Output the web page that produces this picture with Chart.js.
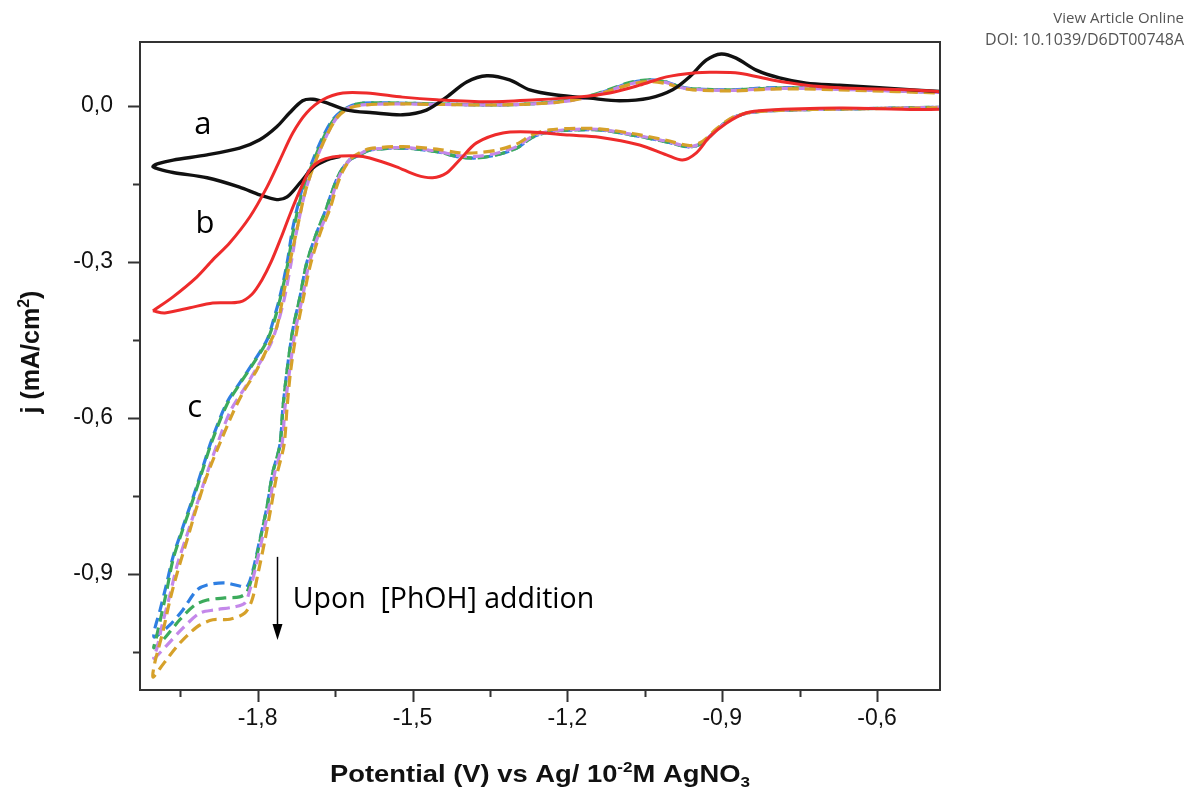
<!DOCTYPE html>
<html>
<head>
<meta charset="utf-8">
<script src="https://cdn.jsdelivr.net/npm/chart.js@4.4.1/dist/chart.umd.min.js"></script>
<style>
  html, body { margin: 0; padding: 0; background: #fff; }
  #wrap { width: 1187px; height: 792px; position: relative; }
</style>
</head>
<body>
<div id="wrap"><canvas id="cv"></canvas></div>
<script>
// axis ranges (V, mA/cm2)
const xRange = [-2.028, -0.478]
const yRange = [-1.123, 0.123]
const majorStep = 0.3
const minorStep = 0.15

// curve a (black), visible part: lower branch -> tip -> upper branch
const curveA = [
  [-1.640,-0.097],[-1.666,-0.104],[-1.693,-0.119],[-1.718,-0.148],[-1.743,-0.175],[-1.763,-0.180],
  [-1.796,-0.171],[-1.835,-0.156],[-1.898,-0.138],[-1.964,-0.128],[-1.993,-0.121],[-2.003,-0.117],
  [-1.993,-0.111],[-1.964,-0.104],[-1.898,-0.094],[-1.835,-0.081],[-1.796,-0.065],[-1.763,-0.040],
  [-1.738,-0.013],[-1.713,0.010],[-1.693,0.013],[-1.666,0.006],[-1.627,-0.008],[-1.577,-0.013],
  [-1.519,-0.017],[-1.473,-0.008],[-1.434,0.017],[-1.395,0.046],[-1.356,0.058],[-1.312,0.050],
  [-1.273,0.031],[-1.221,0.021],[-1.157,0.015],[-1.099,0.010],[-1.041,0.015],[-0.996,0.031],
  [-0.963,0.056],[-0.931,0.088],[-0.902,0.100],[-0.873,0.092],[-0.834,0.069],[-0.789,0.054],
  [-0.737,0.044],[-0.673,0.040],[-0.596,0.035],[-0.45,0.026]
]

// curve b (red)
const curveB = [
  [-2.003,-0.394],[-1.964,-0.367],[-1.918,-0.329],[-1.887,-0.296],[-1.854,-0.263],[-1.815,-0.213],
  [-1.782,-0.156],[-1.757,-0.104],[-1.732,-0.052],[-1.705,-0.013],[-1.674,0.012],[-1.635,0.025],
  [-1.589,0.025],[-1.519,0.017],[-1.453,0.012],[-1.356,0.008],[-1.260,0.012],[-1.182,0.017],
  [-1.118,0.025],[-1.060,0.040],[-1.008,0.056],[-0.950,0.064],[-0.919,0.065],[-0.867,0.063],
  [-0.803,0.050],[-0.737,0.040],[-0.673,0.035],[-0.45,0.024],
  [-0.45,-0.004],[-0.673,-0.004],[-0.815,-0.008],[-0.853,-0.013],[-0.892,-0.033],[-0.925,-0.060],
  [-0.950,-0.090],[-0.977,-0.104],[-1.008,-0.094],[-1.060,-0.075],[-1.138,-0.060],[-1.196,-0.056],
  [-1.273,-0.050],[-1.325,-0.052],[-1.376,-0.071],[-1.409,-0.104],[-1.434,-0.129],[-1.461,-0.138],
  [-1.492,-0.133],[-1.531,-0.117],[-1.583,-0.100],[-1.608,-0.096],[-1.655,-0.098],[-1.680,-0.106],
  [-1.699,-0.123],[-1.718,-0.162],[-1.738,-0.210],[-1.755,-0.254],[-1.774,-0.300],[-1.792,-0.335],
  [-1.811,-0.362],[-1.835,-0.377],[-1.887,-0.379],[-1.931,-0.388],[-1.980,-0.398],[-2.003,-0.394]
]

// curves c, increasing [PhOH] (blue, green, violet, gold)
const curveC1 = [
  [-0.45,-0.002],[-0.673,-0.006],[-0.776,-0.008],[-0.842,-0.012],[-0.880,-0.023],[-0.911,-0.046],
  [-0.938,-0.071],[-0.963,-0.079],[-1.008,-0.069],[-1.074,-0.056],[-1.138,-0.046],[-1.182,-0.046],
  [-1.235,-0.050],[-1.267,-0.060],[-1.298,-0.081],[-1.337,-0.094],[-1.376,-0.100],[-1.409,-0.098],
  [-1.453,-0.088],[-1.519,-0.081],[-1.583,-0.085],[-1.602,-0.094],[-1.622,-0.104],[-1.641,-0.129],
  [-1.655,-0.162],[-1.668,-0.200],[-1.685,-0.242],[-1.705,-0.302],[-1.718,-0.367],[-1.732,-0.431],
  [-1.743,-0.508],[-1.751,-0.579],[-1.757,-0.652],[-1.771,-0.706],[-1.782,-0.771],[-1.796,-0.835],
  [-1.809,-0.892],[-1.821,-0.925],[-1.835,-0.923],[-1.864,-0.917],[-1.898,-0.921],[-1.918,-0.931],
  [-1.945,-0.969],[-1.970,-0.998],[-1.993,-1.017],[-2.001,-1.021],
  [-1.999,-1.004],[-1.989,-0.969],[-1.976,-0.917],[-1.964,-0.867],[-1.945,-0.810],[-1.925,-0.752],
  [-1.906,-0.694],[-1.889,-0.642],[-1.860,-0.571],[-1.835,-0.533],[-1.809,-0.494],[-1.782,-0.450],
  [-1.771,-0.417],[-1.757,-0.367],[-1.743,-0.302],[-1.732,-0.235],[-1.713,-0.156],[-1.693,-0.104],
  [-1.674,-0.060],[-1.655,-0.027],[-1.635,-0.008],[-1.608,0.004],[-1.564,0.006],[-1.453,0.004],
  [-1.325,0.002],[-1.221,0.008],[-1.163,0.017],[-1.118,0.031],[-1.080,0.044],[-1.041,0.050],
  [-1.008,0.046],[-0.982,0.037],[-0.957,0.033],[-0.880,0.031],[-0.815,0.035],[-0.751,0.035],
  [-0.673,0.033],[-0.45,0.025]
]
const curveC2 = [
  [-0.45,-0.002],[-0.673,-0.006],[-0.776,-0.008],[-0.842,-0.012],[-0.880,-0.023],[-0.911,-0.046],
  [-0.938,-0.071],[-0.963,-0.079],[-1.008,-0.069],[-1.074,-0.056],[-1.138,-0.046],[-1.182,-0.046],
  [-1.235,-0.050],[-1.267,-0.060],[-1.298,-0.081],[-1.337,-0.094],[-1.376,-0.100],[-1.409,-0.098],
  [-1.453,-0.088],[-1.519,-0.081],[-1.583,-0.085],[-1.602,-0.094],[-1.622,-0.104],[-1.641,-0.129],
  [-1.655,-0.162],[-1.668,-0.200],[-1.685,-0.242],[-1.705,-0.302],[-1.718,-0.367],[-1.732,-0.431],
  [-1.743,-0.508],[-1.751,-0.579],[-1.757,-0.652],[-1.771,-0.706],[-1.782,-0.771],[-1.796,-0.838],
  [-1.809,-0.898],[-1.821,-0.935],[-1.835,-0.944],[-1.864,-0.946],[-1.898,-0.950],[-1.922,-0.960],
  [-1.951,-0.988],[-1.980,-1.023],[-2.001,-1.042],
  [-1.997,-1.025],[-1.989,-0.990],[-1.976,-0.931],[-1.964,-0.872],[-1.945,-0.814],[-1.925,-0.756],
  [-1.906,-0.698],[-1.889,-0.646],[-1.860,-0.575],[-1.835,-0.535],[-1.809,-0.496],[-1.782,-0.452],
  [-1.769,-0.417],[-1.755,-0.365],[-1.741,-0.300],[-1.730,-0.235],[-1.711,-0.156],[-1.691,-0.104],
  [-1.672,-0.060],[-1.653,-0.027],[-1.633,-0.008],[-1.606,0.004],[-1.564,0.006],[-1.453,0.004],
  [-1.325,0.002],[-1.221,0.008],[-1.163,0.018],[-1.118,0.032],[-1.080,0.045],[-1.041,0.050],
  [-1.008,0.046],[-0.982,0.037],[-0.957,0.033],[-0.880,0.031],[-0.815,0.034],[-0.751,0.035],
  [-0.673,0.033],[-0.45,0.025]
]
const curveC3 = [
  [-0.45,-0.002],[-0.673,-0.006],[-0.776,-0.008],[-0.842,-0.012],[-0.880,-0.023],[-0.911,-0.046],
  [-0.938,-0.070],[-0.963,-0.078],[-1.008,-0.068],[-1.074,-0.055],[-1.138,-0.045],[-1.182,-0.045],
  [-1.235,-0.049],[-1.267,-0.058],[-1.298,-0.078],[-1.337,-0.091],[-1.376,-0.097],[-1.409,-0.096],
  [-1.453,-0.087],[-1.519,-0.080],[-1.583,-0.084],[-1.602,-0.092],[-1.620,-0.102],[-1.638,-0.127],
  [-1.651,-0.160],[-1.663,-0.200],[-1.680,-0.242],[-1.700,-0.302],[-1.713,-0.367],[-1.727,-0.431],
  [-1.738,-0.508],[-1.747,-0.579],[-1.753,-0.652],[-1.767,-0.706],[-1.778,-0.771],[-1.792,-0.835],
  [-1.805,-0.892],[-1.815,-0.930],[-1.825,-0.956],[-1.844,-0.963],[-1.883,-0.969],[-1.912,-0.975],
  [-1.945,-1.004],[-1.976,-1.037],[-2.001,-1.062],
  [-1.995,-1.042],[-1.985,-0.998],[-1.970,-0.940],[-1.956,-0.883],[-1.937,-0.825],[-1.918,-0.767],
  [-1.898,-0.706],[-1.879,-0.652],[-1.852,-0.585],[-1.825,-0.542],[-1.802,-0.504],[-1.776,-0.460],
  [-1.763,-0.425],[-1.749,-0.373],[-1.736,-0.306],[-1.724,-0.238],[-1.707,-0.162],[-1.687,-0.104],
  [-1.666,-0.056],[-1.647,-0.023],[-1.625,-0.004],[-1.598,0.002],[-1.540,0.004],[-1.453,0.003],
  [-1.325,0.002],[-1.221,0.007],[-1.163,0.016],[-1.118,0.030],[-1.080,0.042],[-1.041,0.048],
  [-1.008,0.045],[-0.982,0.036],[-0.957,0.032],[-0.880,0.030],[-0.815,0.033],[-0.751,0.034],
  [-0.673,0.032],[-0.45,0.025]
]
const curveC4 = [
  [-0.45,-0.003],[-0.673,-0.006],[-0.776,-0.008],[-0.842,-0.012],[-0.880,-0.022],[-0.911,-0.044],
  [-0.938,-0.068],[-0.963,-0.076],[-1.008,-0.066],[-1.074,-0.053],[-1.138,-0.044],[-1.182,-0.043],
  [-1.235,-0.046],[-1.267,-0.055],[-1.298,-0.073],[-1.337,-0.085],[-1.376,-0.090],[-1.409,-0.090],
  [-1.453,-0.083],[-1.519,-0.078],[-1.583,-0.082],[-1.602,-0.090],[-1.618,-0.100],[-1.635,-0.125],
  [-1.648,-0.158],[-1.660,-0.198],[-1.678,-0.242],[-1.697,-0.302],[-1.711,-0.367],[-1.724,-0.431],
  [-1.736,-0.508],[-1.743,-0.579],[-1.749,-0.652],[-1.763,-0.710],[-1.774,-0.771],[-1.786,-0.835],
  [-1.800,-0.902],[-1.811,-0.950],[-1.825,-0.975],[-1.854,-0.987],[-1.887,-0.988],[-1.912,-0.998],
  [-1.931,-1.013],[-1.951,-1.033],[-1.970,-1.056],[-1.989,-1.081],[-2.003,-1.098],
  [-1.999,-1.069],[-1.993,-1.046],[-1.983,-1.008],[-1.970,-0.950],[-1.956,-0.898],[-1.937,-0.835],
  [-1.918,-0.771],[-1.898,-0.710],[-1.873,-0.648],[-1.848,-0.590],[-1.829,-0.552],[-1.802,-0.508],
  [-1.780,-0.463],[-1.763,-0.425],[-1.751,-0.367],[-1.738,-0.302],[-1.724,-0.238],[-1.707,-0.162],
  [-1.687,-0.104],[-1.666,-0.056],[-1.645,-0.021],[-1.622,-0.004],[-1.593,0.002],[-1.525,0.004],
  [-1.453,0.003],[-1.325,0.002],[-1.221,0.007],[-1.163,0.016],[-1.118,0.029],[-1.080,0.041],
  [-1.041,0.047],[-1.008,0.043],[-0.982,0.035],[-0.957,0.031],[-0.880,0.029],[-0.815,0.032],
  [-0.751,0.033],[-0.673,0.031],[-0.45,0.024]
]

// text labels placed in data units
const curveLabels = [
  { text: 'a', x: -1.906, y: -0.037 },
  { text: 'b', x: -1.902, y: -0.227 },
  { text: 'c', x: -1.922, y: -0.581 }
]
const arrowNote = { text: 'Upon  [PhOH] addition', x: -1.763, yTop: -0.867, yTip: -1.027, textX: -1.732, textY: -0.950 }

const toPts = arr => arr.map(p => ({x: p[0], y: p[1]}))

function isMajor(v) {
  return Math.abs(Math.round(v / majorStep) * majorStep - v) < 1e-6
}
function fmtTick(v) {
  if (!isMajor(v)) return ''
  return (Math.round(v / majorStep) * majorStep).toFixed(1).replace('.', ',')
}

// text with super/subscript pieces
function drawRich(ctx, parts, size, sx) {
  const small = Math.round(size * 0.62)
  let total = 0
  const widths = parts.map(p => {
    ctx.font = 'bold ' + (p[1] === 'n' ? size : small) + 'px "Liberation Sans", Arial, sans-serif'
    const w = ctx.measureText(p[0]).width
    total += w
    return w
  })
  ctx.scale(sx, 1)
  let x = -total / 2
  parts.forEach((p, i) => {
    ctx.font = 'bold ' + (p[1] === 'n' ? size : small) + 'px "Liberation Sans", Arial, sans-serif'
    const dy = p[1] === 'sup' ? -size * 0.4 : (p[1] === 'sub' ? size * 0.22 : 0)
    ctx.fillText(p[0], x, dy)
    x += widths[i]
  })
}

const decor = {
  id: 'decor',
  afterDraw(chart) {
    const ctx = chart.ctx
    const area = chart.chartArea
    const xs = chart.scales.x
    const ys = chart.scales.y
    ctx.save()
    // frame
    ctx.strokeStyle = '#333'
    ctx.lineWidth = 2
    ctx.strokeRect(area.left, area.top, area.right - area.left, area.bottom - area.top)
    // outward tick marks
    ctx.beginPath()
    xs.ticks.forEach(t => {
      const px = Math.round(xs.getPixelForValue(t.value)) + 0.5
      ctx.moveTo(px, area.bottom)
      ctx.lineTo(px, area.bottom + (isMajor(t.value) ? 12 : 7))
    })
    ys.ticks.forEach(t => {
      const py = Math.round(ys.getPixelForValue(t.value)) + 0.5
      ctx.moveTo(area.left, py)
      ctx.lineTo(area.left - (isMajor(t.value) ? 12 : 7), py)
    })
    ctx.stroke()

    // axis titles
    ctx.fillStyle = '#111'
    ctx.textBaseline = 'alphabetic'
    ctx.textAlign = 'left'
    ctx.save()
    ctx.translate((area.left + area.right) / 2, 782)
    drawRich(ctx, [['Potential (V) vs Ag/ 10', 'n'], ['-2', 'sup'], ['M AgNO', 'n'], ['3', 'sub']], 24, 1.14)
    ctx.restore()
    ctx.save()
    ctx.translate(39, 352)
    ctx.rotate(-Math.PI / 2)
    drawRich(ctx, [['j (mA/cm', 'n'], ['2', 'sup'], [')', 'n']], 25, 1)
    ctx.restore()

    // curve letters
    ctx.fillStyle = '#000'
    ctx.textAlign = 'center'
    ctx.textBaseline = 'middle'
    ctx.font = '31px "Open Sans", sans-serif'
    curveLabels.forEach(l => {
      ctx.fillText(l.text, xs.getPixelForValue(l.x), ys.getPixelForValue(l.y))
    })

    // arrow and note
    const ax = Math.round(xs.getPixelForValue(arrowNote.x)) + 0.5
    const ay0 = ys.getPixelForValue(arrowNote.yTop)
    const ay1 = ys.getPixelForValue(arrowNote.yTip)
    ctx.strokeStyle = '#000'
    ctx.lineWidth = 1.5
    ctx.beginPath()
    ctx.moveTo(ax, ay0)
    ctx.lineTo(ax, ay1 - 14)
    ctx.stroke()
    ctx.beginPath()
    ctx.moveTo(ax - 5, ay1 - 16)
    ctx.lineTo(ax + 5, ay1 - 16)
    ctx.lineTo(ax, ay1)
    ctx.closePath()
    ctx.fill()
    ctx.textAlign = 'left'
    ctx.font = '28.5px "Open Sans", sans-serif'
    ctx.fillText(arrowNote.text, xs.getPixelForValue(arrowNote.textX), ys.getPixelForValue(arrowNote.textY))

    // header of the source page
    ctx.textAlign = 'right'
    ctx.textBaseline = 'alphabetic'
    ctx.fillStyle = '#555'
    ctx.font = '15px "Open Sans", sans-serif'
    ctx.fillText('View Article Online', 1184, 23)
    ctx.font = '16px "Open Sans", sans-serif'
    ctx.fillText('DOI: 10.1039/D6DT00748A', 1184, 45)
    ctx.restore()
  }
}

function line(data, color, width, dash, offset) {
  return {
    data: toPts(data),
    showLine: true,
    borderColor: color,
    backgroundColor: color,
    borderWidth: width,
    borderDash: dash,
    borderDashOffset: offset,
    pointRadius: 0,
    tension: 0.3,
    fill: false
  }
}

new Chart(document.getElementById('cv'), {
  type: 'scatter',
  data: {
    datasets: [
      line(curveB, '#ee2b2b', 3, [], 0),
      line(curveA, '#111111', 3.4, [], 0),
      line(curveC4, '#d6a12a', 3.2, [11, 6], 0),
      line(curveC3, '#c488ea', 3.2, [11, 6], 5),
      line(curveC2, '#3cab5c', 3.2, [11, 6], 9),
      line(curveC1, '#2f7fe2', 3.2, [11, 6], 13)
    ]
  },
  options: {
    responsive: true,
    maintainAspectRatio: false,
    animation: false,
    layout: { padding: { left: 0, right: 247, top: 42, bottom: 0 } },
    plugins: {
      legend: { display: false },
      tooltip: { enabled: false }
    },
    scales: {
      x: {
        type: 'linear',
        min: xRange[0],
        max: xRange[1],
        afterFit: s => { s.height = 102 },
        grid: { display: false, drawTicks: false },
        border: { display: false },
        ticks: {
          stepSize: minorStep,
          includeBounds: false,
          autoSkip: false,
          maxRotation: 0,
          padding: 15,
          color: '#111',
          font: { family: '"Liberation Sans", Arial, sans-serif', size: 23 },
          callback: fmtTick
        }
      },
      y: {
        type: 'linear',
        min: yRange[0],
        max: yRange[1],
        afterFit: s => { s.width = 140 },
        grid: { display: false, drawTicks: false },
        border: { display: false },
        ticks: {
          stepSize: minorStep,
          includeBounds: false,
          autoSkip: false,
          padding: 27,
          color: '#111',
          font: { family: '"Liberation Sans", Arial, sans-serif', size: 23 },
          callback: fmtTick
        }
      }
    }
  },
  plugins: [decor]
});
</script>
</body>
</html>
